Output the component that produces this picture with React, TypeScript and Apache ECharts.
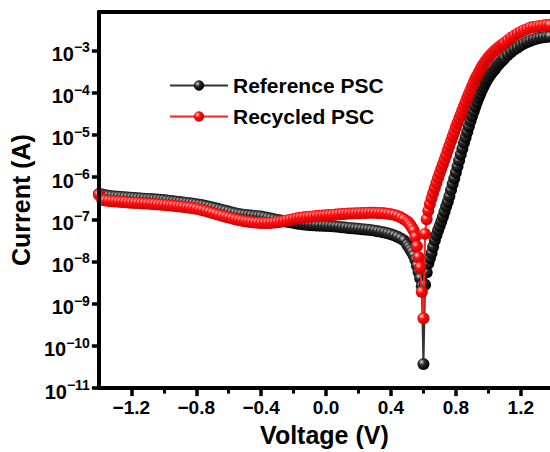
import React, { useEffect, useRef } from "react";
import * as echarts from "echarts";

const VOLTAGE = [
  -1.40, -1.38, -1.36, -1.34, -1.32, -1.30, -1.28, -1.26, -1.24, -1.22,
  -1.20, -1.18, -1.16, -1.14, -1.12, -1.10, -1.08, -1.06, -1.04, -1.02,
  -1.00, -0.98, -0.96, -0.94, -0.92, -0.90, -0.88, -0.86, -0.84, -0.82,
  -0.80, -0.78, -0.76, -0.74, -0.72, -0.70, -0.68, -0.66, -0.64, -0.62,
  -0.60, -0.58, -0.56, -0.54, -0.52, -0.50, -0.48, -0.46, -0.44, -0.42,
  -0.40, -0.38, -0.36, -0.34, -0.32, -0.30, -0.28, -0.26, -0.24, -0.22,
  -0.20, -0.18, -0.16, -0.14, -0.12, -0.10, -0.08, -0.06, -0.04, -0.02,
  0.00, 0.02, 0.04, 0.06, 0.08, 0.10, 0.12, 0.14, 0.16, 0.18,
  0.20, 0.22, 0.24, 0.26, 0.28, 0.30, 0.32, 0.34, 0.36, 0.38,
  0.40, 0.42, 0.44, 0.46, 0.48,
  0.50, 0.51, 0.52, 0.53, 0.54, 0.55, 0.56, 0.57, 0.58, 0.59,
  0.60, 0.61, 0.62, 0.63, 0.64, 0.65, 0.66, 0.67, 0.68, 0.69,
  0.70, 0.71, 0.72, 0.73, 0.74, 0.75, 0.76, 0.77, 0.78, 0.79,
  0.80, 0.81, 0.82, 0.83, 0.84, 0.85, 0.86, 0.87, 0.88, 0.89,
  0.90, 0.91, 0.92, 0.93, 0.94, 0.95, 0.96, 0.97, 0.98, 0.99,
  1.00, 1.01, 1.02, 1.03, 1.04, 1.05, 1.06, 1.07, 1.08, 1.09,
  1.10,
  1.12, 1.14, 1.16, 1.18, 1.20, 1.22, 1.24, 1.26, 1.28, 1.30, 1.32, 1.34, 1.36, 1.38,
];

const REFERENCE_PSC = [
  4.0e-7, 3.85e-7, 3.72e-7, 3.6e-7, 3.52e-7, 3.47e-7, 3.43e-7, 3.38e-7, 3.33e-7, 3.29e-7,
  3.25e-7, 3.2e-7, 3.16e-7, 3.12e-7, 3.08e-7, 3.04e-7, 3.0e-7, 2.96e-7, 2.92e-7, 2.88e-7,
  2.84e-7, 2.78e-7, 2.72e-7, 2.66e-7, 2.61e-7, 2.55e-7, 2.5e-7, 2.44e-7, 2.39e-7, 2.33e-7,
  2.28e-7, 2.21e-7, 2.14e-7, 2.06e-7, 1.99e-7, 1.9e-7, 1.82e-7, 1.74e-7, 1.66e-7, 1.59e-7,
  1.52e-7, 1.45e-7, 1.39e-7, 1.34e-7, 1.3e-7, 1.27e-7, 1.24e-7, 1.22e-7, 1.2e-7, 1.18e-7,
  1.16e-7, 1.12e-7, 1.08e-7, 1.04e-7, 1.0e-7, 9.6e-8, 9.3e-8, 9.0e-8, 8.75e-8, 8.5e-8,
  8.2e-8, 7.95e-8, 7.73e-8, 7.56e-8, 7.41e-8, 7.3e-8, 7.21e-8, 7.13e-8, 7.06e-8, 7.0e-8,
  6.95e-8, 6.88e-8, 6.81e-8, 6.7e-8, 6.59e-8, 6.46e-8, 6.34e-8, 6.22e-8, 6.1e-8, 6.0e-8,
  5.92e-8, 5.82e-8, 5.73e-8, 5.63e-8, 5.52e-8, 5.37e-8, 5.2e-8, 5.02e-8, 4.83e-8, 4.63e-8,
  4.41e-8, 4.15e-8, 3.86e-8, 3.52e-8, 3.16e-8,
  2.5e-8, 2.2e-8, 1.9e-8, 1.66e-8, 1.38e-8, 1.1e-8, 7.9e-9, 5.6e-9, 4.0e-9, 2.6e-9,
  3.7e-11, 2.8e-9, 5.5e-9, 8.9e-9, 1.2e-8, 1.58e-8, 2.24e-8, 3.16e-8, 4.2e-8, 5.4e-8,
  6.9e-8, 8.9e-8, 1.15e-7, 1.51e-7, 2.0e-7, 2.6e-7, 3.5e-7, 4.9e-7, 6.8e-7, 9.3e-7,
  1.29e-6, 1.78e-6, 2.45e-6, 3.4e-6, 4.7e-6, 6.5e-6, 8.7e-6, 1.17e-5, 1.58e-5, 2.14e-5,
  2.8e-5, 3.6e-5, 4.7e-5, 6.0e-5, 7.6e-5, 9.3e-5, 1.15e-4, 1.38e-4, 1.66e-4, 1.95e-4,
  2.24e-4, 2.57e-4, 2.9e-4, 3.24e-4, 3.6e-4, 4.1e-4, 4.6e-4, 5.0e-4, 5.5e-4, 6.0e-4,
  6.6e-4,
  7.8e-4, 9.1e-4, 1.05e-3, 1.17e-3, 1.32e-3, 1.45e-3, 1.58e-3, 1.7e-3, 1.82e-3, 1.91e-3, 2.0e-3, 2.04e-3, 2.09e-3, 2.14e-3,
];

const RECYCLED_PSC = [
  3.8e-7, 2.9e-7, 2.77e-7, 2.72e-7, 2.68e-7, 2.64e-7, 2.61e-7, 2.57e-7, 2.54e-7, 2.5e-7,
  2.47e-7, 2.44e-7, 2.42e-7, 2.39e-7, 2.37e-7, 2.34e-7, 2.31e-7, 2.28e-7, 2.25e-7, 2.22e-7,
  2.19e-7, 2.15e-7, 2.12e-7, 2.08e-7, 2.04e-7, 2.0e-7, 1.96e-7, 1.92e-7, 1.88e-7, 1.83e-7,
  1.78e-7, 1.71e-7, 1.64e-7, 1.56e-7, 1.49e-7, 1.41e-7, 1.34e-7, 1.27e-7, 1.21e-7, 1.15e-7,
  1.1e-7, 1.05e-7, 1.0e-7, 9.6e-8, 9.27e-8, 9.0e-8, 8.75e-8, 8.55e-8, 8.38e-8, 8.27e-8,
  8.17e-8, 8.13e-8, 8.11e-8, 8.2e-8, 8.3e-8, 8.5e-8, 8.71e-8, 9.05e-8, 9.38e-8, 9.75e-8,
  1.01e-7, 1.05e-7, 1.08e-7, 1.11e-7, 1.13e-7, 1.15e-7, 1.17e-7, 1.19e-7, 1.21e-7, 1.22e-7,
  1.24e-7, 1.26e-7, 1.27e-7, 1.29e-7, 1.31e-7, 1.33e-7, 1.34e-7, 1.36e-7, 1.37e-7, 1.38e-7,
  1.39e-7, 1.4e-7, 1.41e-7, 1.42e-7, 1.42e-7, 1.42e-7, 1.41e-7, 1.4e-7, 1.38e-7, 1.35e-7,
  1.32e-7, 1.27e-7, 1.2e-7, 1.11e-7, 1.0e-7,
  8.9e-8, 8.1e-8, 7.2e-8, 6.3e-8, 5.4e-8, 3.8e-8, 2.3e-8, 1.26e-8, 7.2e-9, 1.9e-9,
  4.5e-10, 4.5e-8, 1.0e-7, 1.58e-7, 2.3e-7, 3.16e-7, 4.2e-7, 5.5e-7, 7.2e-7, 9.5e-7,
  1.23e-6, 1.58e-6, 2.0e-6, 2.57e-6, 3.3e-6, 4.3e-6, 5.5e-6, 7.1e-6, 9.1e-6, 1.17e-5,
  1.51e-5, 1.91e-5, 2.4e-5, 3.0e-5, 3.8e-5, 4.8e-5, 6.0e-5, 7.6e-5, 9.3e-5, 1.15e-4,
  1.41e-4, 1.74e-4, 2.14e-4, 2.5e-4, 2.95e-4, 3.5e-4, 4.1e-4, 4.7e-4, 5.4e-4, 6.0e-4,
  6.8e-4, 7.6e-4, 8.3e-4, 9.1e-4, 9.8e-4, 1.07e-3, 1.15e-3, 1.23e-3, 1.32e-3, 1.41e-3,
  1.51e-3,
  1.74e-3, 2.0e-3, 2.24e-3, 2.5e-3, 2.75e-3, 3.0e-3, 3.2e-3, 3.5e-3, 3.6e-3, 3.7e-3, 3.8e-3, 3.9e-3, 4.0e-3, 4.0e-3,
];

const SERIES_NAMES = ["Reference PSC", "Recycled PSC"];
const X_TICKS = [-1.2, -0.8, -0.4, 0, 0.4, 0.8, 1.2];
const X_MINOR_TICKS = [-1.0, -0.6, -0.2, 0.2, 0.6, 1.0];
const Y_DECADES = [-11, -10, -9, -8, -7, -6, -5, -4, -3];
const X_MIN = -1.4;
const X_MAX = 1.38;
const Y_MIN = 1e-11;
const Y_MAX = 8.13e-3;

const FONT = '"Liberation Sans", Arial, Helvetica, sans-serif';

function sphere(light: string, mid: string, dark: string) {
  return new echarts.graphic.RadialGradient(0.35, 0.32, 0.68, [
    { offset: 0, color: light },
    { offset: 0.38, color: mid },
    { offset: 1, color: dark },
  ]);
}

export default function App() {
  const ref = useRef<HTMLDivElement>(null);

  useEffect(() => {
    if (!ref.current) return;
    const chart = echarts.init(ref.current, null, { renderer: "svg" });
    const axisLine = { show: true, onZero: false, lineStyle: { color: "#000", width: 4 } };
    const noLine = { show: false, onZero: false };

    const option: any = {
      animation: false,
      backgroundColor: "#fff",
      grid: { left: 92, right: 0, top: 12, bottom: 57, containLabel: false },
      legend: {
        orient: "vertical",
        left: 169,
        top: 75,
        padding: 0,
        itemWidth: 58,
        itemHeight: 13,
        itemGap: 10,
        data: SERIES_NAMES,
        textStyle: { fontFamily: FONT, fontWeight: "bold", fontSize: 21, color: "#000" },
      },
      xAxis: [
        {
          type: "value",
          min: X_MIN,
          max: X_MAX,
          position: "bottom",
          z: 10,
          axisLine,
          splitLine: { show: false },
          axisTick: { show: true, inside: false, length: 8, lineStyle: { color: "#000", width: 3.5 }, customValues: X_TICKS },
          axisLabel: {
            customValues: X_TICKS,
            margin: 10,
            fontFamily: FONT,
            fontWeight: "bold",
            fontSize: 19,
            color: "#000",
            formatter: (v: number) => (v < -1e-9 ? "\u2212" : "") + Math.abs(v).toFixed(1),
          },
          name: "Voltage (V)",
          nameLocation: "middle",
          nameGap: 30,
          nameTextStyle: { fontFamily: FONT, fontWeight: "bold", fontSize: 25, color: "#000" },
        },
        {
          type: "value",
          min: X_MIN,
          max: X_MAX,
          position: "bottom",
          z: 10,
          axisLine: noLine,
          splitLine: { show: false },
          axisLabel: { show: false },
          axisTick: { show: true, inside: false, length: 5.5, lineStyle: { color: "#000", width: 3 }, customValues: X_MINOR_TICKS },
        },
        {
          type: "value",
          min: X_MIN,
          max: X_MAX,
          position: "top",
          z: 10,
          axisLine,
          splitLine: { show: false },
          axisLabel: { show: false },
          axisTick: { show: false },
        },
      ],
      yAxis: [
        {
          type: "log",
          logBase: 10,
          min: Y_MIN,
          max: Y_MAX,
          splitNumber: 10,
          position: "left",
          z: 10,
          axisLine,
          splitLine: { show: false },
          axisTick: { show: false },
          axisLabel: {
            margin: 9,
            padding: [7, 0, 0, 0],
            formatter: (v: number) => {
              const e = Math.log10(v);
              const r = Math.round(e);
              if (Math.abs(e - r) > 1e-6) return "";
              return `{b|10}{s|\u2212${-r}}`;
            },
            rich: {
              b: { fontFamily: FONT, fontWeight: "bold", fontSize: 20, color: "#000", lineHeight: 27 },
              s: { fontFamily: FONT, fontWeight: "bold", fontSize: 14, color: "#000", lineHeight: 12, verticalAlign: "top" },
            },
          },
          name: "Current (A)",
          nameLocation: "middle",
          nameGap: 51,
          nameTextStyle: { fontFamily: FONT, fontWeight: "bold", fontSize: 25, color: "#000" },
        },
        {
          type: "value",
          min: Math.log10(Y_MIN),
          max: Math.log10(Y_MAX),
          position: "left",
          z: 10,
          axisLine: noLine,
          splitLine: { show: false },
          axisLabel: { show: false },
          axisTick: { show: true, inside: false, length: 7, lineStyle: { color: "#000", width: 3.5 }, customValues: Y_DECADES },
        },
      ],
      series: [
        {
          name: SERIES_NAMES[0],
          type: "line",
          xAxisIndex: 0,
          yAxisIndex: 0,
          data: VOLTAGE.map((v, i) => [v, REFERENCE_PSC[i]]),
          symbol: "circle",
          symbolSize: 12,
          showAllSymbol: true,
          z: 2,
          lineStyle: { color: "#333", width: 2 },
          itemStyle: { color: sphere("#d8d8d8", "#2a2a2a", "#000"), borderWidth: 0 },
        },
        {
          name: SERIES_NAMES[1],
          type: "line",
          xAxisIndex: 0,
          yAxisIndex: 0,
          data: VOLTAGE.map((v, i) => [v, RECYCLED_PSC[i]]),
          symbol: "circle",
          symbolSize: 12,
          showAllSymbol: true,
          z: 3,
          lineStyle: { color: "#ff2020", width: 2 },
          itemStyle: { color: sphere("#ffd6d6", "#ff1010", "#c80000"), borderWidth: 0 },
        },
      ],
    };

    chart.setOption(option);
    return () => chart.dispose();
  }, []);

  return (
    <div
      ref={ref}
      style={{ position: "fixed", left: 0, top: 0, width: 550, height: 452, background: "#fff" }}
    />
  );
}
